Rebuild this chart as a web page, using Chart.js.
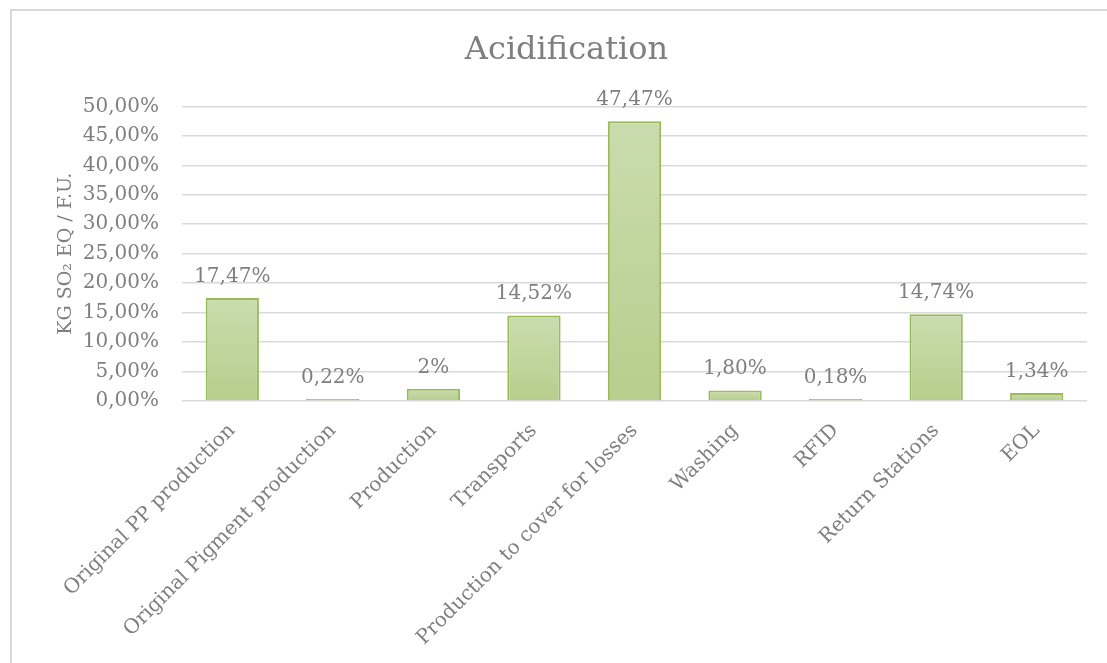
<!DOCTYPE html>
<html>
<head>
<meta charset="utf-8">
<script src="https://cdn.jsdelivr.net/npm/chart.js@4.4.1/dist/chart.umd.min.js"></script>
<style>
  html, body { margin: 0; padding: 0; background: #fff; overflow: hidden; }
  #wrap { position: relative; width: 1107px; height: 663px; }
  canvas { display: block; }
</style>
</head>
<body>
<div id="wrap"><canvas id="grafico" width="1107" height="663"></canvas></div>
<script>
// Dados do gráfico
const categorias = [
  'Original PP production',
  'Original Pigment production',
  'Production',
  'Transports',
  'Production to cover for losses',
  'Washing',
  'RFID',
  'Return Stations',
  'EOL'
];
const valores = [17.47, 0.22, 2.1, 14.52, 47.47, 1.80, 0.18, 14.74, 1.34];
const rotulos = ['17,47%', '0,22%', '2%', '14,52%', '47,47%', '1,80%', '0,18%', '14,74%', '1,34%'];

const FONTE = "'DejaVu Serif', serif";
const CINZA = '#7f7f7f';

// Moldura cinza (só esquerda e topo aparecem)
const moldura = {
  id: 'moldura',
  beforeDraw(chart) {
    const c = chart.ctx;
    c.save();
    c.strokeStyle = '#d9d9d9';
    c.lineWidth = 2;
    c.beginPath();
    c.moveTo(11, 663);
    c.lineTo(11, 10);
    c.lineTo(1107, 10);
    c.stroke();
    c.restore();
  }
};

// Rótulos de valor acima das barras
const rotulosBarras = {
  id: 'rotulosBarras',
  afterDatasetsDraw(chart) {
    const c = chart.ctx;
    const meta = chart.getDatasetMeta(0);
    c.save();
    c.font = `20px ${FONTE}`;
    c.fillStyle = CINZA;
    c.textAlign = 'center';
    c.textBaseline = 'alphabetic';
    meta.data.forEach((bar, i) => {
      c.fillText(rotulos[i], bar.x, bar.y - 16);
    });
    c.restore();
  }
};

// Gradiente vertical em cada barra (barras muito baixas ficam só com o verde da borda)
function gradiente(context) {
  const chart = context.chart;
  const y = chart.scales.y;
  if (!y || context.dataIndex === undefined) return '#c0d59d';
  const v = valores[context.dataIndex];
  const top = y.getPixelForValue(v);
  const base = y.getPixelForValue(0);
  if (!isFinite(top) || !isFinite(base) || base - top < 4) return '#a9c46f';
  const g = chart.ctx.createLinearGradient(0, top, 0, base);
  g.addColorStop(0, '#cadcae');
  g.addColorStop(1, '#b7ce8d');
  return g;
}

new Chart(document.getElementById('grafico'), {
  type: 'bar',
  data: {
    labels: categorias,
    datasets: [{
      data: valores,
      backgroundColor: gradiente,
      borderColor: '#9bbb59',
      borderWidth: 2,
      minBarLength: 2,
      barPercentage: 0.53,
      categoryPercentage: 1
    }]
  },
  options: {
    responsive: false,
    animation: false,
    layout: { padding: { top: 0, left: 46, right: 20, bottom: 0 } },
    plugins: {
      legend: { display: false },
      tooltip: { enabled: false },
      title: {
        display: true,
        text: 'Acidification',
        color: CINZA,
        font: { family: FONTE, size: 32, weight: 'normal' },
        padding: { top: 31, bottom: 37 }
      }
    },
    scales: {
      x: {
        grid: { display: false },
        border: { display: false },
        ticks: {
          color: CINZA,
          font: { family: FONTE, size: 20 },
          minRotation: 45,
          maxRotation: 45,
          padding: 10,
          autoSkip: false
        },
        afterFit(scale) { scale.height = 262; }
      },
      y: {
        min: 0,
        max: 50,
        grid: { color: '#d9d9d9', lineWidth: 1.5, drawTicks: false },
        border: { display: false },
        ticks: {
          stepSize: 5,
          color: CINZA,
          font: { family: FONTE, size: 20 },
          padding: 23,
          callback: v => v.toFixed(2).replace('.', ',') + '%'
        },
        title: {
          display: true,
          text: 'KG SO₂ EQ / F.U.',
          color: CINZA,
          font: { family: FONTE, size: 19 },
          padding: { top: 9, bottom: 0 }
        },
        afterFit(scale) { scale.width = 182 - 46; }
      }
    }
  },
  plugins: [moldura, rotulosBarras]
});
</script>
</body>
</html>
